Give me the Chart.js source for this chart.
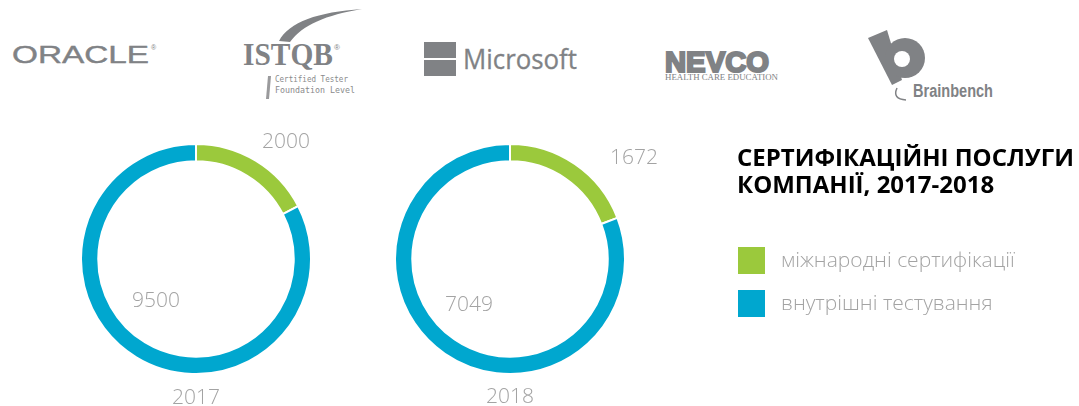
<!DOCTYPE html>
<html>
<head>
<meta charset="utf-8">
<script src="https://cdn.jsdelivr.net/npm/chart.js@4"></script>
<style>
  html, body { margin: 0; padding: 0; background: #fff; }
  #wrap { position: relative; width: 1079px; height: 406px; overflow: hidden; font-family: 'Open Sans', sans-serif; }
  #wrap canvas { position: absolute; }
  #wrap svg { position: absolute; left: 0; top: 0; }
</style>
</head>
<body>
<div id="wrap">
  <canvas id="donut0" width="232" height="232" style="left:80px;top:143px"></canvas>
  <canvas id="donut1" width="232" height="232" style="left:394px;top:143px"></canvas>

  <!-- logos -->
  <svg width="1079" height="110" fill="#808285">
    <!-- oracle -->
    <text x="12" y="63" font-family="Liberation Sans" font-size="23" textLength="137" lengthAdjust="spacingAndGlyphs" stroke="#808285" stroke-width="0.4">ORACLE</text>
    <text x="151" y="50" font-family="Liberation Sans" font-size="7">®</text>
    <!-- istqb -->
    <path d="M279 41 C289 22 318 12 362 9 C326 15 302 25 290 42 Z"/>
    <text x="243" y="65" font-family="Liberation Serif" font-weight="bold" font-size="31" textLength="90" lengthAdjust="spacingAndGlyphs">ISTQB</text>
    <text x="334" y="50" font-family="Liberation Sans" font-size="8">®</text>
    <path d="M268 76 L271 76 L269 99 L266 99 Z" fill="#9a9a9c"/>
    <text x="275" y="82" font-family="DejaVu Sans Mono" font-size="9.5" textLength="73" lengthAdjust="spacingAndGlyphs" fill="#8a8a8c">Certified Tester</text>
    <text x="275" y="93" font-family="DejaVu Sans Mono" font-size="9.5" textLength="80" lengthAdjust="spacingAndGlyphs" fill="#8a8a8c">Foundation Level</text>
    <!-- microsoft -->
    <rect x="424" y="42" width="32" height="16"/>
    <rect x="424" y="60" width="32" height="16"/>
    <text x="463" y="69" font-family="Open Sans" font-size="27" textLength="114" lengthAdjust="spacingAndGlyphs" stroke="#808285" stroke-width="0.3">Microsoft</text>
    <!-- nevco -->
    <text x="665" y="72" font-family="Liberation Sans" font-weight="bold" font-size="30" textLength="104" lengthAdjust="spacingAndGlyphs" stroke="#808285" stroke-width="2.2">NEVCO</text>
    <text x="665" y="80" font-family="Liberation Serif" font-size="8.5" textLength="113" lengthAdjust="spacingAndGlyphs">HEALTH CARE EDUCATION</text>
    <!-- brainbench -->
    <path d="M868 38 L887 30 L902 80 L892 85 Z"/>
    <circle cx="905" cy="58" r="20"/>
    <circle cx="902" cy="59" r="8" fill="#fff"/>
    <path d="M897 88 Q892 99 906 100" fill="none" stroke="#808285" stroke-width="1.5"/>
    <text x="913" y="97" font-family="Liberation Sans Narrow, Liberation Sans" font-weight="bold" font-size="18" textLength="80" lengthAdjust="spacingAndGlyphs">Brainbench</text>
  </svg>

  <svg id="overlay" width="1079" height="406"></svg>
</div>

<script>
// data
const years = ['2017', '2018']
const categories = ['міжнародні сертифікації', 'внутрішні тестування']
const international = [2000, 1672]
const internal = [9500, 7049]
const colors = ['#9bc93c', '#00a7cf']
const title = ['СЕРТИФІКАЦІЙНІ ПОСЛУГИ', 'КОМПАНІЇ, 2017-2018']

// label placement for each donut (baseline positions)
const labelPos = [
  { top: [262, 148], inner: [132, 307], year: [172, 404] },
  { top: [610, 164], inner: [445, 311], year: [486, 403] }
]

const svgNS = 'http://www.w3.org/2000/svg'
const overlay = document.getElementById('overlay')

function addText(txt, x, y, opts) {
  let t = document.createElementNS(svgNS, 'text')
  t.setAttribute('x', x)
  t.setAttribute('y', y)
  t.setAttribute('font-family', 'Open Sans')
  t.setAttribute('font-size', opts.size)
  t.setAttribute('font-weight', opts.weight || 300)
  t.setAttribute('fill', opts.color || '#a3a3a3')
  t.textContent = txt
  overlay.appendChild(t)
}

years.forEach((year, i) => {
  new Chart(document.getElementById('donut' + i), {
    type: 'doughnut',
    data: {
      labels: categories,
      datasets: [{
        data: [international[i], internal[i]],
        backgroundColor: colors,
        borderColor: '#fff',
        borderWidth: 2
      }]
    },
    options: {
      responsive: false,
      animation: false,
      cutout: '85%',
      layout: { padding: 0 },
      plugins: { legend: { display: false }, tooltip: { enabled: false } }
    }
  })

  let p = labelPos[i]
  addText(String(international[i]), p.top[0], p.top[1], { size: 21 })
  addText(String(internal[i]), p.inner[0], p.inner[1], { size: 21 })
  addText(year, p.year[0], p.year[1], { size: 21 })
})

// title
title.forEach((line, i) => {
  addText(line, 737, 166 + i * 27, { size: 24, weight: 700, color: '#000' })
})

// legend
categories.forEach((cat, i) => {
  let r = document.createElementNS(svgNS, 'rect')
  r.setAttribute('x', 738)
  r.setAttribute('y', 247 + i * 43)
  r.setAttribute('width', 27)
  r.setAttribute('height', 27)
  r.setAttribute('fill', colors[i])
  overlay.appendChild(r)
  addText(cat, 781, 267 + i * 43, { size: 21 })
})
</script>
</body>
</html>
